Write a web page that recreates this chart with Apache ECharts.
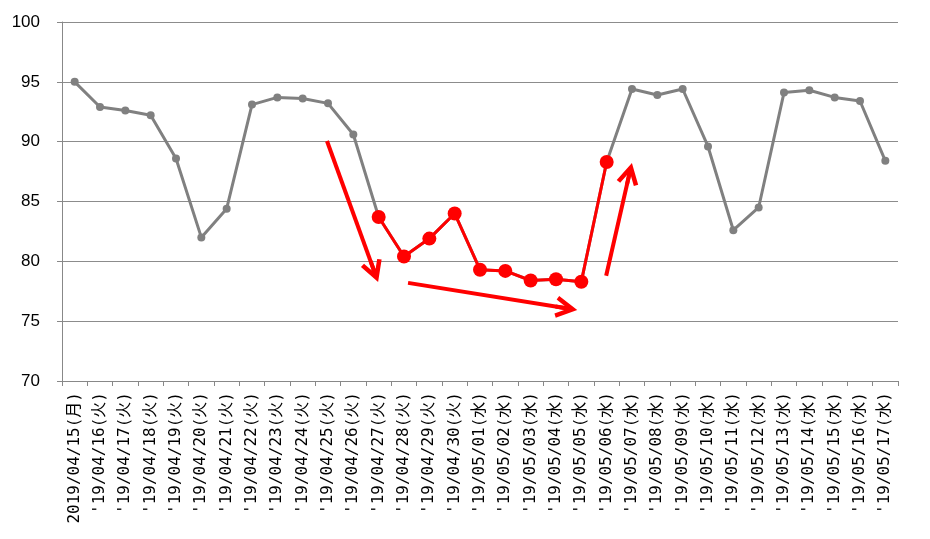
<!DOCTYPE html>
<html>
<head>
<meta charset="utf-8">
<script src="https://cdn.jsdelivr.net/npm/echarts@6/dist/echarts.min.js"></script>
<style>
  html, body { margin: 0; padding: 0; background: #fff; }
  #chart { width: 930px; height: 539px; }
</style>
</head>
<body>
<div id="chart"></div>
<script>
const dates = [
  '2019/04/15(月)', "'19/04/16(火)", "'19/04/17(火)", "'19/04/18(火)", "'19/04/19(火)",
  "'19/04/20(火)", "'19/04/21(火)", "'19/04/22(火)", "'19/04/23(火)", "'19/04/24(火)",
  "'19/04/25(火)", "'19/04/26(火)", "'19/04/27(火)", "'19/04/28(火)", "'19/04/29(火)",
  "'19/04/30(火)", "'19/05/01(水)", "'19/05/02(水)", "'19/05/03(水)", "'19/05/04(水)",
  "'19/05/05(水)", "'19/05/06(水)", "'19/05/07(水)", "'19/05/08(水)", "'19/05/09(水)",
  "'19/05/10(水)", "'19/05/11(水)", "'19/05/12(水)", "'19/05/13(水)", "'19/05/14(水)",
  "'19/05/15(水)", "'19/05/16(水)", "'19/05/17(水)"
];

const values = [
  95.0, 92.9, 92.6, 92.2, 88.6, 82.0, 84.4, 93.1, 93.7, 93.6,
  93.2, 90.6, 83.7, 80.4, 81.9, 84.0, 79.3, 79.2, 78.4, 78.5,
  78.3, 88.3, 94.4, 93.9, 94.4, 89.6, 82.6, 84.5, 94.1, 94.3,
  93.7, 93.4, 88.4
];

// highlighted stretch (4/27 .. 5/06)
const highlightFrom = 12;
const highlightTo = 21;

const yTicks = [70, 75, 80, 85, 90, 95, 100];

// annotation arrows: [startIndex, startValue, headIndex, headValue]
const arrows = [
  [9.96, 90.06, 11.83, 79.14],
  [13.16, 78.2, 19.41, 76.08],
  [20.98, 78.8, 21.90, 87.33]
];

const highlighted = values.map((v, i) => (i >= highlightFrom && i <= highlightTo) ? v : null);

// open arrow head with a stem so the shaft reaches the tip
const chevron = 'path://M0,0 L11,20 L7,22 L2,13 L2,22 L-2,22 L-2,13 L-7,22 L-11,20 Z';

const chart = echarts.init(document.getElementById('chart'));
chart.setOption({
  animation: false,
  grid: { left: 62, right: 32, top: 22, bottom: 158 },
  xAxis: [
    {
      type: 'category',
      data: dates,
      boundaryGap: true,
      axisLine: { lineStyle: { color: '#888', width: 1 } },
      axisTick: { show: true, length: 5, lineStyle: { color: '#888' } },
      axisLabel: {
        rotate: 90,
        interval: 0,
        fontSize: 16,
        color: '#000',
        margin: 11,
        fontFamily: '"DejaVu Sans Mono", "Noto Sans CJK JP", monospace'
      }
    },
    {
      // hidden continuous twin of the category axis, for the arrows
      type: 'value',
      show: false,
      min: -0.5,
      max: dates.length - 0.5,
      splitLine: { show: false }
    }
  ],
  yAxis: {
    type: 'value',
    min: yTicks[0],
    max: yTicks[yTicks.length - 1],
    interval: 5,
    axisLine: { show: true, onZero: false, lineStyle: { color: '#888' } },
    axisTick: { show: true, length: 5, lineStyle: { color: '#888' } },
    axisLabel: {
      fontSize: 17,
      color: '#000',
      margin: 22,
      fontFamily: '"Liberation Sans", sans-serif'
    },
    splitLine: { lineStyle: { color: '#8c8c8c', width: 1 } }
  },
  series: [
    {
      name: 'all',
      type: 'line',
      data: values,
      symbol: 'circle',
      symbolSize: 8,
      itemStyle: { color: '#808080' },
      lineStyle: { color: '#808080', width: 3 },
      z: 2
    },
    {
      name: 'highlight',
      type: 'line',
      data: highlighted,
      symbol: 'circle',
      symbolSize: 14,
      itemStyle: { color: '#ff0000' },
      lineStyle: { color: '#ff0000', width: 3 },
      z: 3
    },
    {
      name: 'arrows',
      type: 'line',
      xAxisIndex: 1,
      data: [],
      markLine: {
        silent: true,
        symbol: ['none', chevron],
        symbolSize: [22, 22],
        label: { show: false },
        lineStyle: { color: '#ff0000', width: 4, type: 'solid' },
        data: arrows.map(a => [
          { coord: [a[0], a[1]] },
          { coord: [a[2], a[3]] }
        ])
      },
      z: 4
    }
  ]
});
</script>
</body>
</html>
